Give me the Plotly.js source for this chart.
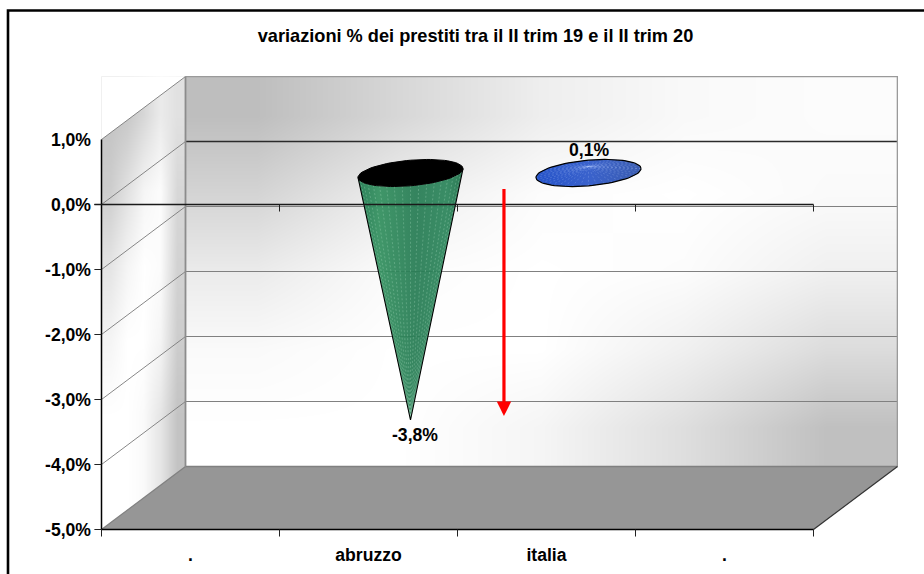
<!DOCTYPE html>
<html><head><meta charset="utf-8">
<script src="https://cdn.plot.ly/plotly-3.0.1.min.js"></script>
<style>html,body{margin:0;padding:0;background:#fff}#c{width:924px;height:574px}</style>
</head><body><div id="c"></div>
<script>
const categories = ['.', 'abruzzo', 'italia', '.'];
const values = [null, -3.8, 0.1, null];
const yTickValues = [-5, -4, -3, -2, -1, 0, 1];
const yTickLabels = ['-5,0%', '-4,0%', '-3,0%', '-2,0%', '-1,0%', '0,0%', '1,0%'];
const chartTitle = 'variazioni % dei prestiti tra il II trim 19 e il II trim 20';
const backWallShade = [
  [190, 215, 238, 249, 252],
  [212, 238, 252, 255, 250],
  [235, 252, 255, 252, 240],
  [250, 255, 255, 240, 220],
  [255, 255, 245, 222, 192]
];
const sideWallShade = [
  [195, 200, 215, 235, 225],
  [205, 225, 245, 252, 215],
  [228, 245, 255, 252, 210],
  [245, 255, 255, 245, 205],
  [255, 255, 250, 230, 195],
  [255, 255, 250, 230, 195]
];

const DX = 84 / 178, DY = 63 / 65, N = categories.length;
const YMIN = -5, YMAX = 1;
const RX = 0.295, RY = 0.197, TILT = 0.068;
const traces = [];
const base = {showlegend: false, hoverinfo: 'skip', type: 'scatter'};

function edges(a, b, n) { const r = []; for (let i = 0; i <= n; i++) r.push(a + (b - a) * i / n); return r; }
function wall(z, x0, x1, y0, y1) {
  const rows = z.slice().reverse();
  traces.push({type: 'heatmap', z: rows, x: edges(x0, x1, rows[0].length), y: edges(y0, y1, rows.length),
    zmin: 0, zmax: 255, colorscale: [[0, '#000'], [1, '#fff']], showscale: false, zsmooth: 'best', hoverinfo: 'skip'});
}
function poly(x, y, fill, line) {
  traces.push(Object.assign({}, base, {x, y, mode: line ? 'lines' : 'none', fill: 'toself', fillcolor: fill,
    line: line || {width: 0}}));
}
function seg(x, y, color, width, dash) {
  traces.push(Object.assign({}, base, {x, y, mode: 'lines', line: {color, width, dash: dash || 'solid'}}));
}
function rim(cx, cy, t) { return [cx + RX * Math.cos(t), cy + RY * Math.sin(t) + TILT * Math.cos(t)]; }
function arc(cx, cy, t0, t1, n) {
  const xs = [], ys = [];
  for (let i = 0; i <= n; i++) { const p = rim(cx, cy, t0 + (t1 - t0) * i / n); xs.push(p[0]); ys.push(p[1]); }
  return [xs, ys];
}
function fan(cx, cy, ax, ay, t0, t1, n, color, width, dash) {
  const xs = [], ys = [];
  for (let i = 0; i <= n; i++) {
    const p = rim(cx, cy, t0 + (t1 - t0) * i / n);
    xs.push(p[0], ax, null); ys.push(p[1], ay, null);
  }
  seg(xs, ys, color, width, dash);
}

// walls
wall(backWallShade, DX, N + DX, YMIN + DY, YMAX + DY);
wall(sideWallShade, 0, DX, YMIN, YMAX + DY);
poly([0, DX, 0, 0], [YMAX, YMAX + DY, YMAX + DY, YMAX], '#ffffff');

// back wall grid and diagonals
yTickValues.forEach(v => {
  if (v !== YMIN) seg([0, DX], [v, v + DY], '#7a7a7a', 0.9);
  if (v > YMIN && v < YMAX - 1) seg([DX, N + DX], [v + DY, v + DY], '#808080', 1);
});
seg([DX, N + DX], [DY, DY], '#2b2b2b', 1.5);
// wall frame
seg([DX, N + DX, N + DX], [YMAX + DY, YMAX + DY, YMIN + DY], '#9a9a9a', 1.6);
seg([DX, DX], [YMAX + DY, YMIN + DY], '#8c8c8c', 1.8);
// floor
poly([0, N, N + DX, DX, 0], [YMIN, YMIN, YMIN + DY, YMIN + DY, YMIN], '#969696');
seg([DX, N + DX], [YMIN + DY, YMIN + DY], '#808080', 1.5);
seg([0, DX], [YMIN, YMIN + DY], '#808080', 1.2);
seg([N, N + DX], [YMIN, YMIN + DY], '#333333', 1.2);
// front axis
seg([0, 0], [YMIN, YMAX], '#000', 1.5);
seg([0, N], [YMIN, YMIN], '#000', 1.5);
categories.concat(['']).forEach((c, i) => seg([i, i], [YMIN, YMIN - 0.108], '#222', 1));
yTickValues.filter(v => v < YMAX).forEach(v => seg([-0.04, 0], [v, v], '#222', 1));

// cones
const labels = [];
values.forEach((v, i) => {
  if (v === null) return;
  const cx = i + 0.5 + DX / 2, cy = DY / 2, ax = cx, ay = v + DY / 2;
  if (v < 0) {
    const a = arc(cx, cy, Math.PI, 2 * Math.PI, 40);
    traces.push(Object.assign({}, base, {x: a[0].concat([ax, a[0][0]]), y: a[1].concat([ay, a[1][0]]),
      mode: 'none', fill: 'toself', opacity: 0.93,
      fillgradient: {type: 'horizontal', colorscale: [[0, '#1f7a50'], [0.2, '#33905f'], [0.55, '#277c54'], [0.85, '#2c855b'], [1, '#1c6f48']]}}));
    fan(cx, cy, ax, ay, Math.PI, 2 * Math.PI, 20, 'rgba(190,235,210,0.38)', 0.7, '2px,2px');
    seg([a[0][0], ax, a[0][40]], [a[1][0], ay, a[1][40]], '#000', 1.1);
    const r = arc(cx, cy, 0, 2 * Math.PI, 80);
    poly(r[0], r[1], '#000000', {color: '#000', width: 1});
    labels.push({x: ax, y: ay, yshift: -15, xshift: 4, text: '-3,8%'});
  } else {
    const r = arc(cx, cy, 0, 2 * Math.PI, 80);
    traces.push(Object.assign({}, base, {x: r[0], y: r[1], mode: 'none', fill: 'toself',
      fillgradient: {type: 'horizontal', colorscale: [[0, '#2452c8'], [0.5, '#3a62cc'], [1, '#3a5cb0']]}}));
    fan(cx, cy, ax, ay, 0, 2 * Math.PI, 40, 'rgba(180,200,250,0.38)', 0.6, '2px,2px');
    seg(r[0], r[1], '#000', 1.2);
    labels.push({x: ax, y: ay, yshift: 17, xshift: 0, text: '0,1%'});
  }
});
// zero line over the marks
seg([-0.04, N], [0, 0], '#1a1a1a', 1.6);
const zt = []; const zy = [];
for (let i = 1; i <= N; i++) { zt.push(i, i, null); zy.push(0, -0.108, null); }
seg(zt, zy, '#222', 1);

const px = p => (p - 94) / 804, py = p => (537 - p) / 461;
const font = {family: 'Liberation Sans, Arial, sans-serif', size: 17.6, color: '#000', weight: 700};
const ann = labels.map(l => ({x: l.x, y: l.y, xref: 'x', yref: 'y', text: l.text, showarrow: false, yshift: l.yshift, xshift: l.xshift, font}));
ann.push({x: 2.261, y: -3.254, ax: 2.261, ay: 0.269, xref: 'x', yref: 'y', axref: 'x', ayref: 'y', text: ' ',
  font: {size: 1}, showarrow: true, arrowcolor: '#ff0000', arrowwidth: 3.2, arrowhead: 2, arrowsize: 0.9, standoff: 0, startstandoff: 0});

Plotly.newPlot('c', traces, {
  width: 924, height: 574, autosize: false,
  margin: {l: 94, r: 26, t: 76, b: 37, pad: 0},
  paper_bgcolor: '#fff', plot_bgcolor: '#fff', showlegend: false,
  title: {text: chartTitle, x: 475.5 / 924, xref: 'container', xanchor: 'center', y: 1 - 36 / 574, yref: 'container', yanchor: 'middle',
    font: Object.assign({}, font, {size: 18.2})},
  xaxis: {range: [-7.5 / 178, 796.5 / 178], tickmode: 'array', tickvals: categories.map((c, i) => i + 0.5), ticktext: categories,
    showgrid: false, zeroline: false, showline: false, ticks: '', ticklabelstandoff: 5, tickfont: font, fixedrange: true},
  yaxis: {range: [-332.5 / 65, 128.5 / 65], tickmode: 'array', tickvals: yTickValues, ticktext: yTickLabels,
    showgrid: false, zeroline: false, showline: false, ticks: '', ticklabelstandoff: 2, tickfont: font, fixedrange: true},
  annotations: ann,
  shapes: [{type: 'rect', xref: 'paper', yref: 'paper', x0: px(8), x1: px(940), y0: py(590), y1: py(10.5),
    line: {color: '#000', width: 2.6}, fillcolor: 'rgba(0,0,0,0)', layer: 'above'}]
}, {displayModeBar: false, staticPlot: true});
</script></body></html>
